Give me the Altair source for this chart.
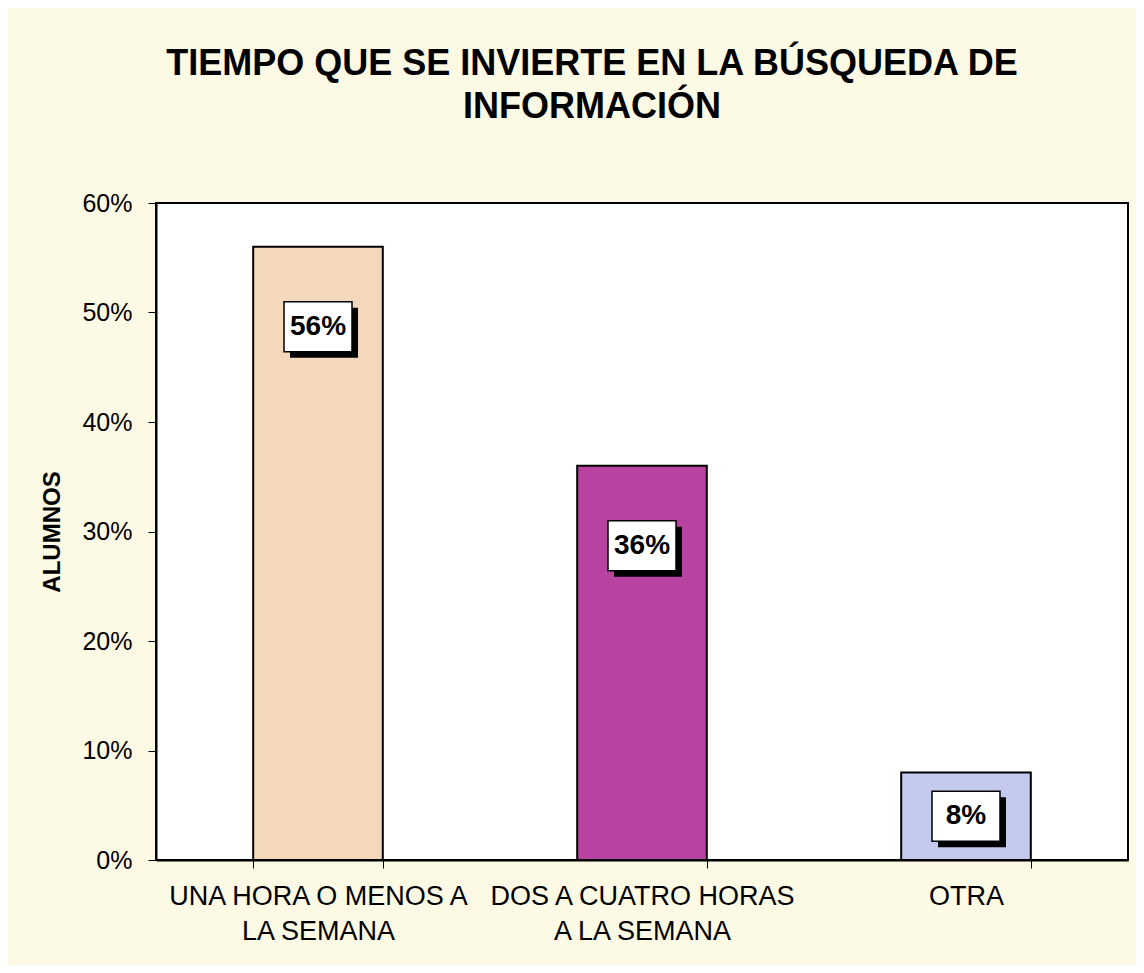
import altair as alt
import pandas as pd

categories = ["UNA HORA O MENOS A\nLA SEMANA", "DOS A CUATRO HORAS\nA LA SEMANA", "OTRA"]
values = [0.56, 0.36, 0.08]
labels = ["56%", "36%", "8%"]
colors = ["#f4d8bc", "#b8429f", "#c4caee"]

df = pd.DataFrame({"cat": categories, "value": values, "label": labels, "color": colors})

FONT = "Liberation Sans"

x = alt.X("cat:N", sort=categories, title=None,
          scale=alt.Scale(paddingInner=0.6, paddingOuter=0.3),
          axis=alt.Axis(labelExpr="split(datum.label, '\\n')", labelAngle=0,
                        labelFontSize=27, labelColor="black", labelPadding=15,
                        labelLineHeight=35, labelLimit=0, tickBand="extent", tickSize=8,
                        tickColor="black", domainColor="black", domainWidth=2,
                        labelFont=FONT))
y = alt.Y("value:Q", title="ALUMNOS",
          scale=alt.Scale(domain=[0, 0.6], nice=False),
          axis=alt.Axis(format=".0%", values=[0, 0.1, 0.2, 0.3, 0.4, 0.5, 0.6],
                        grid=False, labelFontSize=25, labelColor="black",
                        labelPadding=16, tickSize=8, tickColor="black",
                        domainColor="black", domainWidth=2,
                        titleFontSize=24, titleFontWeight="bold", titleColor="black",
                        titlePadding=17, labelFont=FONT, titleFont=FONT))

bars = alt.Chart(df).mark_bar(stroke="black", strokeWidth=2).encode(
    x=x, y=y,
    color=alt.Color("color:N", scale=None),
)

box_path = "M-1,-0.735L1,-0.735L1,0.735L-1,0.735Z"
base_lbl = alt.Chart(df).transform_calculate(
    label_y="max(datum.value - 0.073, datum.value / 2)"
)

shadow = base_lbl.mark_point(shape=box_path, size=68 * 68, filled=True,
                             fill="black", opacity=1, xOffset=6, yOffset=6,
                             strokeWidth=0).encode(
    x=alt.X("cat:N", sort=categories),
    y=alt.Y("label_y:Q"),
)
box = base_lbl.mark_point(shape=box_path, size=68 * 68, filled=True,
                          fill="white", stroke="black", strokeWidth=1.5,
                          opacity=1).encode(
    x=alt.X("cat:N", sort=categories),
    y=alt.Y("label_y:Q"),
)
text = base_lbl.mark_text(font=FONT, fontSize=28, fontWeight="bold",
                          color="black", baseline="middle", align="center").encode(
    x=alt.X("cat:N", sort=categories),
    y=alt.Y("label_y:Q"),
    text="label:N",
)

chart = alt.layer(bars, shadow, box, text).properties(
    width=972, height=657,
    title=alt.TitleParams(
        text=["TIEMPO QUE SE INVIERTE EN LA BÚSQUEDA DE", "INFORMACIÓN"],
        fontSize=36, font=FONT, fontWeight="bold", color="black",
        anchor="middle", dx=-50, offset=65, lineHeight=43,
    ),
    background="#fcf9e4",
    padding={"left": 148, "top": 195, "right": 8, "bottom": 105},
    autosize=alt.AutoSizeParams(type="none"),
).configure(font=FONT).configure_view(fill="white", stroke="black", strokeWidth=2)

chart.save("out.html", embed_options={"renderer": "svg", "actions": False})
